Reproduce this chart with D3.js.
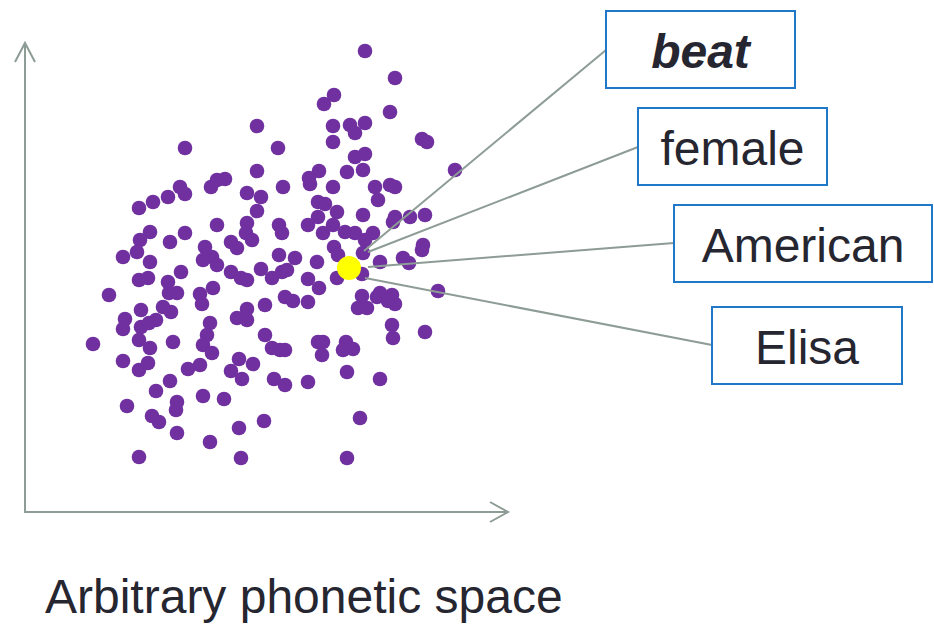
<!DOCTYPE html>
<html>
<head>
<meta charset="utf-8">
<script src="https://cdn.jsdelivr.net/npm/d3@7"></script>
<style>
  body { margin: 0; background: #fff; }
  svg { display: block; font-family: "Liberation Sans", Arial, sans-serif; }
</style>
</head>
<body>
<svg width="934" height="624"></svg>
<script>
// dot positions in phonetic space units (offset from axis origin)
var dotX = [160,155,160,143,128,114,186,125,115,112,98,145,160,180,
  309,299,232,308,308,253,232,294,284,285,308,192,200,258,222,236,232,293,300,312,192,222,221,227,254,257,283,293,298,308,309,206,212,254,270,187,
  340,370,365,325,340,330,397,402,330,340,322,338,430,350,365,370,353,338,370,368,385,400,320,330,348,340,338,398,397,378,
  125,114,123,156,143,144,152,84,116,138,146,100,98,116,124,131,114,125,148,68,98,114,123,163,175,175,177,188,185,182,178,145,131,178,102,152,151,127,134,152,185,114,
  192,206,216,222,236,247,257,262,292,283,294,260,268,240,222,212,222,283,293,298,240,255,260,247,214,228,206,217,187,297,249,260,283,199,214,239,216,312,
  355,384,337,337,333,342,352,355,367,370,363,413,367,368,400,321,328,318,322,355,335,322,
  178,313];
var dotY = [364,325,318,315,310,304,325,280,272,260,255,270,279,265,
  417,408,386,386,370,364,341,341,334,328,325,332,333,325,319,315,301,310,308,300,287,289,279,272,287,279,287,295,279,287,265,270,264,257,254,255,
  461,434,400,387,389,379,373,370,355,358,340,342,342,325,327,325,312,297,295,290,295,297,280,279,279,272,259,267,262,254,
  250,232,234,240,230,219,219,217,202,205,200,193,183,185,189,192,172,164,170,168,151,142,149,143,147,218,208,224,189,177,167,131,121,116,106,110,102,96,90,79,70,55,
  247,240,234,232,243,234,240,242,250,233,224,215,211,207,203,194,192,210,170,170,177,162,162,164,153,148,141,133,159,157,133,127,130,113,84,91,54,234,
  250,249,238,216,204,204,215,219,217,208,211,221,187,174,180,170,163,162,140,133,94,54,
  252,257];

// the highlighted token
var focusX = [324];
var focusY = [244];

// labels linked to the token
var labels = ["beat", "female", "American", "Elisa"];
var labelBold = [true, false, false, false];
// leader start (near token) and box geometry, in pixels
var boxX = [606, 638, 674, 712];
var boxY = [11, 108, 205, 307];
var boxW = [189, 189, 258, 190];
var boxH = 77;
var leadStartX = [364, 368, 368, 365];
var leadStartY = [251, 252, 267, 278];
var leadEndY = [50, 147, 243, 345];

var title = "Arbitrary phonetic space";

var svg = d3.select("svg");
var axisColor = "#8d9c94";

var x = d3.scaleLinear().domain([0, 480]).range([25, 505]);
var y = d3.scaleLinear().domain([0, 470]).range([512, 42]);

// axes with open arrow heads
var ox = x(0), oy = y(0);
svg.append("line").attr("x1", ox).attr("y1", oy).attr("x2", ox).attr("y2", y(469))
  .attr("stroke", axisColor).attr("stroke-width", 2);
svg.append("path").attr("d", "M" + (ox - 10) + "," + (y(469) + 19) + "L" + ox + "," + y(469) + "L" + (ox + 10) + "," + (y(469) + 19))
  .attr("fill", "none").attr("stroke", axisColor).attr("stroke-width", 2);
svg.append("line").attr("x1", ox - 1).attr("y1", oy).attr("x2", x(483)).attr("y2", oy)
  .attr("stroke", axisColor).attr("stroke-width", 2);
svg.append("path").attr("d", "M" + (x(483) - 18) + "," + (oy - 10) + "L" + x(483) + "," + oy + "L" + (x(483) - 18) + "," + (oy + 10))
  .attr("fill", "none").attr("stroke", axisColor).attr("stroke-width", 2);

var dots = dotX.map(function(d, i){ return {x: d, y: dotY[i]}; });

svg.append("g").selectAll("circle").data(dots).enter().append("circle")
  .attr("cx", function(d){ return x(d.x); })
  .attr("cy", function(d){ return y(d.y); })
  .attr("r", 7.3)
  .attr("fill", "#7030a0");

svg.append("g").selectAll("circle").data(focusX).enter().append("circle")
  .attr("cx", function(d){ return x(d); })
  .attr("cy", function(d, i){ return y(focusY[i]); })
  .attr("r", 12)
  .attr("fill", "#ffff00");

// leader lines
svg.append("g").selectAll("line").data(labels).enter().append("line")
  .attr("x1", function(d, i){ return leadStartX[i]; })
  .attr("y1", function(d, i){ return leadStartY[i]; })
  .attr("x2", function(d, i){ return boxX[i]; })
  .attr("y2", function(d, i){ return leadEndY[i]; })
  .attr("stroke", axisColor).attr("stroke-width", 2);

var box = svg.append("g").selectAll("g").data(labels).enter().append("g");
box.append("rect")
  .attr("x", function(d, i){ return boxX[i]; })
  .attr("y", function(d, i){ return boxY[i]; })
  .attr("width", function(d, i){ return boxW[i]; })
  .attr("height", boxH)
  .attr("fill", "#fff")
  .attr("stroke", "#1f78c8").attr("stroke-width", 2);
box.append("text")
  .attr("x", function(d, i){ return boxX[i] + boxW[i] / 2; })
  .attr("y", function(d, i){ return boxY[i] + 56.5; })
  .attr("text-anchor", "middle")
  .attr("font-size", 48)
  .attr("font-weight", function(d, i){ return labelBold[i] ? "bold" : "normal"; })
  .attr("font-style", function(d, i){ return labelBold[i] ? "italic" : "normal"; })
  .attr("fill", "#262631")
  .text(function(d){ return d; });

svg.append("text").attr("x", 45).attr("y", 613)
  .attr("font-size", 48).attr("fill", "#262631")
  .text(title);
</script>
</body>
</html>
